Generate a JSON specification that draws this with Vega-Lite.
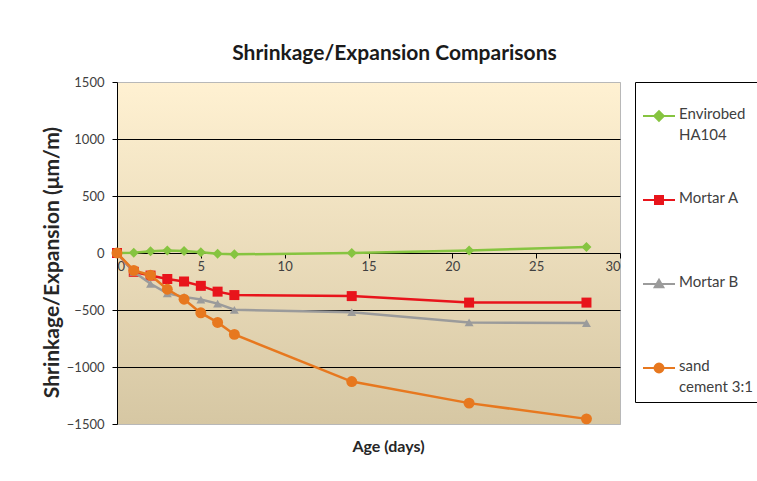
{
  "$schema": "https://vega.github.io/schema/vega-lite/v6.json",
  "width": 503,
  "height": 342,
  "autosize": {"type": "none"},
  "padding": {"left": 117, "top": 82, "right": 137, "bottom": 57},
  "background": "white",
  "title": {
    "text": "Shrinkage/Expansion Comparisons",
    "font": "Lato", "fontSize": 21, "fontWeight": "bold", "color": "#1a1a1a",
    "anchor": "middle", "frame": "group", "dx": 26, "offset": 12
  },
  "config": {
    "font": "Lato",
    "view": {
      "stroke": "#b8b8b8",
      "fill": {"gradient": "linear", "x1": 0, "y1": 0, "x2": 0, "y2": 1,
        "stops": [{"offset": 0, "color": "#FFF1D2"}, {"offset": 1, "color": "#D6C7A3"}]}
    }
  },
  "data": {"values": [
    {"series": "Envirobed HA104", "day": 0, "value": 0},
    {"series": "Envirobed HA104", "day": 1, "value": 3},
    {"series": "Envirobed HA104", "day": 2, "value": 15},
    {"series": "Envirobed HA104", "day": 3, "value": 22},
    {"series": "Envirobed HA104", "day": 4, "value": 18},
    {"series": "Envirobed HA104", "day": 5, "value": 6},
    {"series": "Envirobed HA104", "day": 6, "value": -6},
    {"series": "Envirobed HA104", "day": 7, "value": -12},
    {"series": "Envirobed HA104", "day": 14, "value": 0},
    {"series": "Envirobed HA104", "day": 21, "value": 22},
    {"series": "Envirobed HA104", "day": 28, "value": 53},
    {"series": "Mortar A", "day": 0, "value": 0},
    {"series": "Mortar A", "day": 1, "value": -165},
    {"series": "Mortar A", "day": 2, "value": -198},
    {"series": "Mortar A", "day": 3, "value": -228},
    {"series": "Mortar A", "day": 4, "value": -250},
    {"series": "Mortar A", "day": 5, "value": -288},
    {"series": "Mortar A", "day": 6, "value": -339},
    {"series": "Mortar A", "day": 7, "value": -369},
    {"series": "Mortar A", "day": 14, "value": -378},
    {"series": "Mortar A", "day": 21, "value": -435},
    {"series": "Mortar A", "day": 28, "value": -435},
    {"series": "Mortar B", "day": 0, "value": 0},
    {"series": "Mortar B", "day": 1, "value": -165},
    {"series": "Mortar B", "day": 2, "value": -270},
    {"series": "Mortar B", "day": 3, "value": -354},
    {"series": "Mortar B", "day": 4, "value": -385},
    {"series": "Mortar B", "day": 5, "value": -408},
    {"series": "Mortar B", "day": 6, "value": -444},
    {"series": "Mortar B", "day": 7, "value": -498},
    {"series": "Mortar B", "day": 14, "value": -519},
    {"series": "Mortar B", "day": 21, "value": -609},
    {"series": "Mortar B", "day": 28, "value": -615},
    {"series": "sand cement 3:1", "day": 0, "value": 0},
    {"series": "sand cement 3:1", "day": 1, "value": -153},
    {"series": "sand cement 3:1", "day": 2, "value": -195},
    {"series": "sand cement 3:1", "day": 3, "value": -318},
    {"series": "sand cement 3:1", "day": 4, "value": -405},
    {"series": "sand cement 3:1", "day": 5, "value": -525},
    {"series": "sand cement 3:1", "day": 6, "value": -609},
    {"series": "sand cement 3:1", "day": 7, "value": -714},
    {"series": "sand cement 3:1", "day": 14, "value": -1128},
    {"series": "sand cement 3:1", "day": 21, "value": -1317},
    {"series": "sand cement 3:1", "day": 28, "value": -1455}
  ]},
  "encoding": {
    "x": {
      "field": "day", "type": "quantitative",
      "scale": {"domain": [0, 30], "nice": false, "zero": false},
      "axis": {
        "orient": "bottom", "offset": -171, "values": [0, 5, 10, 15, 20, 25, 30],
        "grid": false, "domainColor": "#000000", "tickColor": "#000000", "tickSize": 5,
        "labelFont": "Lato", "labelFontSize": 13, "labelColor": "#404040", "labelPadding": 2,
        "title": "Age (days)", "titleX": 271, "titleY": 193, "titleAlign": "center",
        "titleBaseline": "middle", "titleFont": "Lato", "titleFontSize": 16,
        "titleFontWeight": "bold", "titleColor": "#262626"
      }
    },
    "y": {
      "field": "value", "type": "quantitative",
      "scale": {"domain": [-1500, 1500], "nice": false},
      "axis": {
        "values": [-1500, -1000, -500, 0, 500, 1000, 1500],
        "format": "d",
        "grid": true,
        "gridColor": {"condition": {"test": "abs(datum.value) == 1500 || datum.value == 0", "value": "#b8b8b8"}, "value": "#000000"},
        "gridOpacity": 1,
        "domainColor": "#000000", "tickColor": "#000000", "tickSize": 5,
        "labelFont": "Lato", "labelFontSize": 13, "labelColor": "#404040", "labelPadding": 8,
        "title": "Shrinkage/Expansion (μm/m)", "titleFont": "Lato", "titleFontSize": 21,
        "titleFontWeight": "bold", "titleColor": "#262626", "titlePadding": 4,
        "titleY": 180, "titleAlign": "center"
      }
    },
    "color": {
      "field": "series", "type": "nominal",
      "scale": {
        "domain": ["Envirobed HA104", "Mortar A", "Mortar B", "sand cement 3:1"],
        "range": ["#86C440", "#E8141B", "#9B9B9B", "#E7781F"]
      },
      "legend": {
        "orient": "none", "legendX": 518, "legendY": 0, "title": " ",
        "titleFontSize": 2, "titlePadding": 8,
        "strokeColor": "#000000", "padding": 7, "fillColor": "white",
        "symbolSize": 1024, "symbolStrokeWidth": 2, "rowPadding": 40, "gridAlign": "all",
        "labelFont": "Lato", "labelFontSize": 15, "labelColor": "#404040",
        "labelLimit": 200, "labelOffset": 3, "labelBaseline": "top",
        "labelExpr": "datum.label == 'Envirobed HA104' ? ['Envirobed', 'HA104'] : datum.label == 'sand cement 3:1' ? ['sand', 'cement 3:1'] : datum.label",
        "encode": {
          "labels": {"update": {"dy": {"value": -9}, "lineHeight": {"value": 21}}},
          "symbols": {"update": {
            "shape": {"signal": "datum.value == 'Envirobed HA104' ? 'M-1,0H1M0,-0.3L0.3,0L0,0.3L-0.3,0Z' : datum.value == 'Mortar A' ? 'M-1,0H1M-0.25,-0.25H0.25V0.25H-0.25Z' : datum.value == 'Mortar B' ? 'M-1,0H1M0,-0.27L0.27,0.2H-0.27Z' : 'M-1,0H1M0.28,0A0.28,0.28,0,1,1,-0.28,0A0.28,0.28,0,1,1,0.28,0Z'"},
            "fill": {"scale": "color", "field": "value"},
            "stroke": {"scale": "color", "field": "value"},
            "strokeWidth": {"value": 2},
            "opacity": {"value": 1}
          }}
        }
      }
    }
  },
  "layer": [
    {"transform": [{"filter": "datum.series == 'Envirobed HA104'"}], "mark": {"type": "line", "strokeWidth": 2.5}},
    {"transform": [{"filter": "datum.series == 'Envirobed HA104'"}], "mark": {"type": "point", "shape": "diamond", "filled": true, "opacity": 1, "size": 100}},
    {"transform": [{"filter": "datum.series == 'Mortar A'"}], "mark": {"type": "line", "strokeWidth": 2.5}},
    {"transform": [{"filter": "datum.series == 'Mortar A'"}], "mark": {"type": "point", "shape": "square", "filled": true, "opacity": 1, "size": 100}},
    {"transform": [{"filter": "datum.series == 'Mortar B'"}], "mark": {"type": "line", "strokeWidth": 2.5}},
    {"transform": [{"filter": "datum.series == 'Mortar B'"}], "mark": {"type": "point", "shape": "triangle-up", "filled": true, "opacity": 1, "size": 80}},
    {"transform": [{"filter": "datum.series == 'sand cement 3:1'"}], "mark": {"type": "line", "strokeWidth": 2.5}},
    {"transform": [{"filter": "datum.series == 'sand cement 3:1'"}], "mark": {"type": "point", "shape": "circle", "filled": true, "opacity": 1, "size": 120}}
  ]
}
